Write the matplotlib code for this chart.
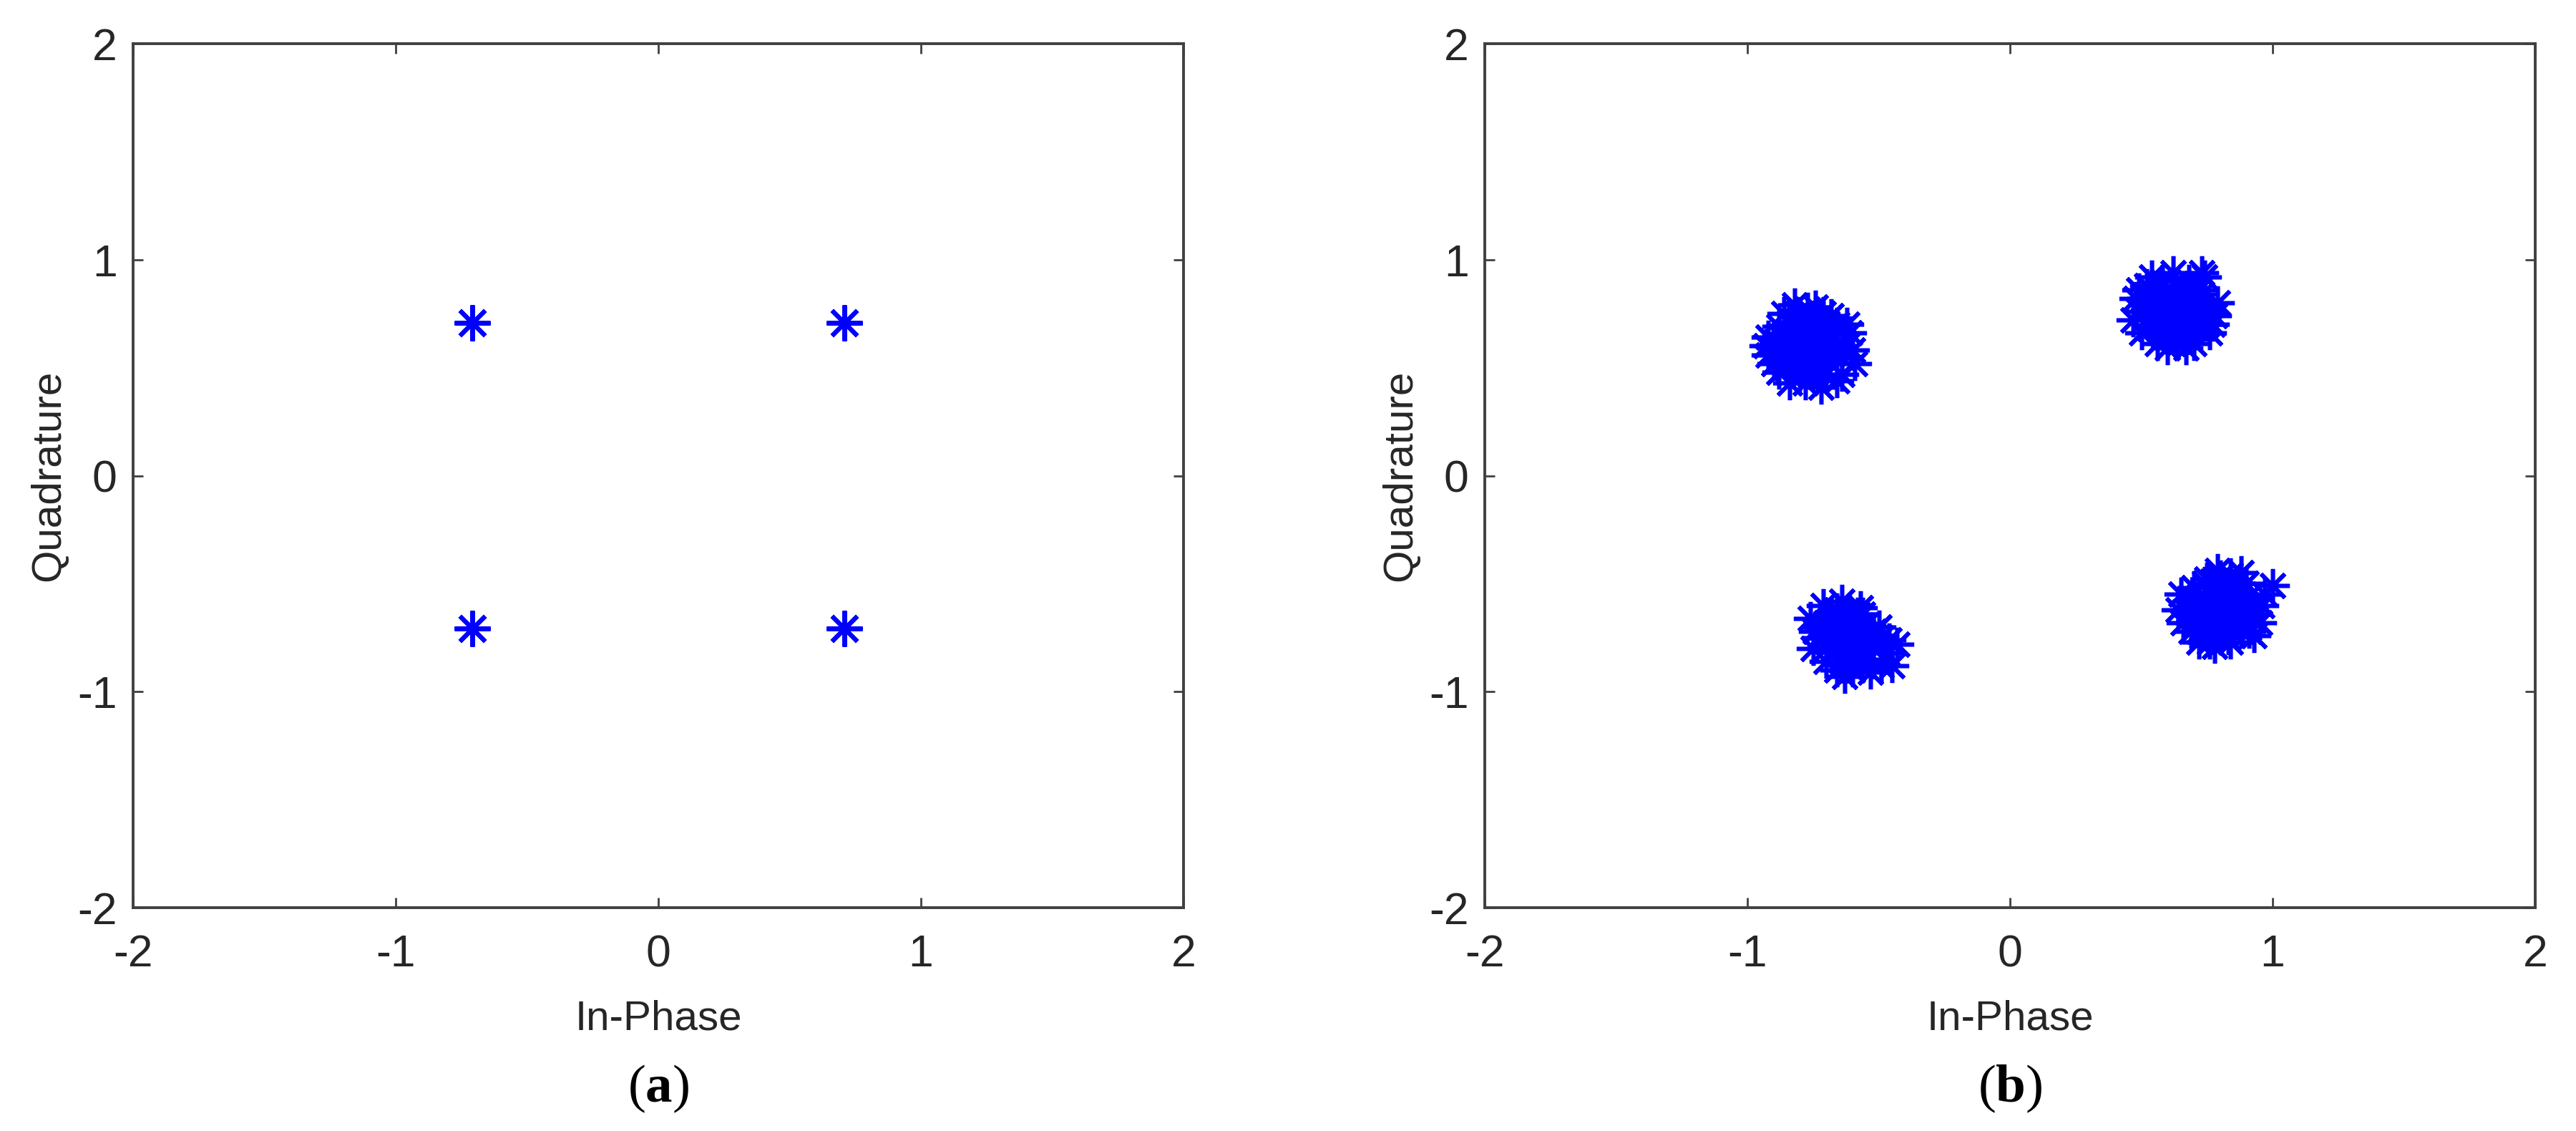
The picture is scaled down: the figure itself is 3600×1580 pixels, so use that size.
"""QPSK constellation: (a) ideal symbols, (b) received symbols with noise."""
import matplotlib

matplotlib.use("Agg")
import matplotlib.pyplot as plt

# (a) ideal QPSK points
IDEAL_I = [-0.7071, 0.7071, -0.7071, 0.7071]
IDEAL_Q = [0.7071, 0.7071, -0.7071, -0.7071]

# (b) received clusters
UL_I = [-0.76, -0.70, -0.82, -0.70, -0.82, -0.76, -0.76, -0.88, -0.64, -0.86,
        -0.68, -0.88, -0.64, -0.82, -0.74, -0.88, -0.72, -0.78, -0.92, -0.92,
        -0.59, -0.61, -0.66, -0.90, -0.60, -0.93, -0.80, -0.66, -0.84, -0.70,
        -0.77, -0.62, -0.85, -0.73,
        -0.73, -0.79, -0.73, -0.79, -0.85, -0.67, -0.85, -0.67, -0.76, -0.76,
        -0.70, -0.82, -0.88, -0.64, -0.79, -0.73, -0.85, -0.67, -0.81, -0.71]
UL_Q = [0.60, 0.66, 0.66, 0.54, 0.54, 0.72, 0.48, 0.60, 0.60, 0.75,
        0.74, 0.48, 0.47, 0.79, 0.78, 0.69, 0.41, 0.43, 0.56, 0.64,
        0.52, 0.66, 0.44, 0.52, 0.58, 0.60, 0.47, 0.70, 0.43, 0.47,
        0.77, 0.70, 0.55, 0.62,
        0.63, 0.63, 0.57, 0.57, 0.63, 0.63, 0.57, 0.57, 0.68, 0.52,
        0.71, 0.71, 0.65, 0.55, 0.50, 0.50, 0.50, 0.69, 0.75, 0.75]

UR_I = [0.63, 0.57, 0.69, 0.57, 0.69, 0.63, 0.63, 0.51, 0.75, 0.52,
        0.74, 0.50, 0.76, 0.56, 0.70, 0.48, 0.78, 0.60, 0.67, 0.47,
        0.79, 0.54, 0.72, 0.62, 0.66, 0.58, 0.73, 0.49, 0.77, 0.64,
        0.55, 0.70,
        0.60, 0.66, 0.60, 0.66, 0.54, 0.72, 0.54, 0.72, 0.63, 0.63,
        0.57, 0.69, 0.51, 0.75, 0.60, 0.66, 0.53, 0.73, 0.58, 0.68]
UR_Q = [0.76, 0.82, 0.82, 0.70, 0.70, 0.88, 0.64, 0.76, 0.76, 0.88,
        0.92, 0.66, 0.66, 0.61, 0.61, 0.82, 0.74, 0.59, 0.59, 0.72,
        0.80, 0.92, 0.86, 0.94, 0.68, 0.66, 0.94, 0.86, 0.70, 0.62,
        0.77, 0.72,
        0.79, 0.79, 0.73, 0.73, 0.79, 0.79, 0.73, 0.73, 0.84, 0.68,
        0.87, 0.87, 0.82, 0.70, 0.65, 0.65, 0.68, 0.84, 0.90, 0.90]

LL_I = [-0.61, -0.67, -0.55, -0.67, -0.55, -0.61, -0.61, -0.73, -0.49, -0.71,
        -0.64, -0.76, -0.75, -0.47, -0.45, -0.50, -0.58, -0.66, -0.70, -0.53,
        -0.43, -0.63, -0.57, -0.72, -0.52, -0.68, -0.59, -0.46, -0.74, -0.65,
        -0.56, -0.49,
        -0.64, -0.58, -0.64, -0.58, -0.70, -0.52, -0.68, -0.54, -0.61, -0.61,
        -0.67, -0.55, -0.73, -0.49, -0.64, -0.56, -0.70, -0.52, -0.66, -0.60]
LL_Q = [-0.75, -0.69, -0.69, -0.81, -0.81, -0.63, -0.87, -0.75, -0.75, -0.60,
        -0.58, -0.66, -0.80, -0.82, -0.88, -0.70, -0.64, -0.90, -0.86, -0.91,
        -0.78, -0.93, -0.61, -0.70, -0.74, -0.76, -0.84, -0.76, -0.72, -0.66,
        -0.88, -0.88,
        -0.72, -0.72, -0.78, -0.78, -0.68, -0.80, -0.64, -0.85, -0.67, -0.83,
        -0.74, -0.76, -0.70, -0.79, -0.86, -0.64, -0.80, -0.72, -0.62, -0.90]

LR_I = [0.80, 0.74, 0.86, 0.74, 0.86, 0.80, 0.80, 0.68, 0.92, 0.70,
        0.90, 0.69, 0.91, 0.76, 0.84, 0.84, 0.88, 0.64, 0.96, 0.65,
        0.95, 0.75, 0.83, 1.00, 0.97, 0.72, 0.78, 0.66, 0.93, 0.88,
        0.79, 0.71,
        0.77, 0.83, 0.77, 0.83, 0.71, 0.89, 0.71, 0.89, 0.80, 0.80,
        0.74, 0.86, 0.68, 0.93, 0.77, 0.83, 0.72, 0.88, 0.80, 0.91]
LR_Q = [-0.62, -0.56, -0.56, -0.68, -0.68, -0.50, -0.74, -0.62, -0.62, -0.52,
        -0.50, -0.72, -0.72, -0.77, -0.77, -0.46, -0.45, -0.62, -0.60, -0.55,
        -0.68, -0.48, -0.52, -0.51, -0.55, -0.77, -0.79, -0.68, -0.74, -0.66,
        -0.44, -0.60,
        -0.59, -0.59, -0.65, -0.65, -0.59, -0.59, -0.65, -0.65, -0.54, -0.70,
        -0.50, -0.50, -0.58, -0.64, -0.75, -0.75, -0.72, -0.72, -0.47, -0.56]

TICKS = [-2, -1, 0, 1, 2]
PANEL_LABELS = ["a", "b"]

_INK = "#262626"
_SPINE = "#404040"
_BLUE = "#0000ff"
ASTERISK = (8, 2, 0)

plt.rcParams["font.family"] = ["Liberation Sans", "DejaVu Sans"]
plt.rcParams["mathtext.fontset"] = "custom"
plt.rcParams["mathtext.rm"] = "Liberation Serif"
plt.rcParams["mathtext.bf"] = "Liberation Serif:bold"

fig = plt.figure(figsize=(36, 15.8), dpi=100)
ax_a = fig.add_axes([186 / 3600, 312 / 1580, 1468 / 3600, 1207 / 1580])
ax_b = fig.add_axes([2075 / 3600, 312 / 1580, 1468 / 3600, 1207 / 1580])

ax_a.plot(IDEAL_I, IDEAL_Q, linestyle="none", marker=ASTERISK,
          markersize=36, markeredgewidth=4.5, color=_BLUE)

rx_i = UL_I + UR_I + LL_I + LR_I
rx_q = UL_Q + UR_Q + LL_Q + LR_Q
ax_b.plot(rx_i, rx_q, linestyle="none", marker=ASTERISK,
          markersize=34, markeredgewidth=4.0, color=_BLUE)

for ax, tag in zip((ax_a, ax_b), PANEL_LABELS):
    ax.set_xlim(-2, 2)
    ax.set_ylim(-2, 2)
    ax.set_xticks(TICKS, labels=[str(t) for t in TICKS])
    ax.set_yticks(TICKS, labels=[str(t) for t in TICKS])
    ax.tick_params(direction="in", top=True, right=True, length=10,
                   width=2, color=_SPINE, labelsize=45, labelcolor=_INK)
    ax.tick_params(axis="x", pad=26)
    ax.tick_params(axis="y", pad=16)
    for spine in ax.spines.values():
        spine.set_linewidth(2.8)
        spine.set_color(_SPINE)
    ax.set_xlabel("In-Phase", fontsize=42, color=_INK, va="center")
    ax.xaxis.set_label_coords(0.5, -0.129)
    ax.set_ylabel("Quadrature", fontsize=42, color=_INK, va="center")
    ax.yaxis.set_label_coords(-0.080, 0.5)
    ax.text(0.5, -0.21, r"($\mathbf{%s}$)" % tag, transform=ax.transAxes,
            ha="center", va="center", fontsize=54,
            family="Liberation Serif", color="black")

fig.savefig("out.png", dpi=100, facecolor="white")
